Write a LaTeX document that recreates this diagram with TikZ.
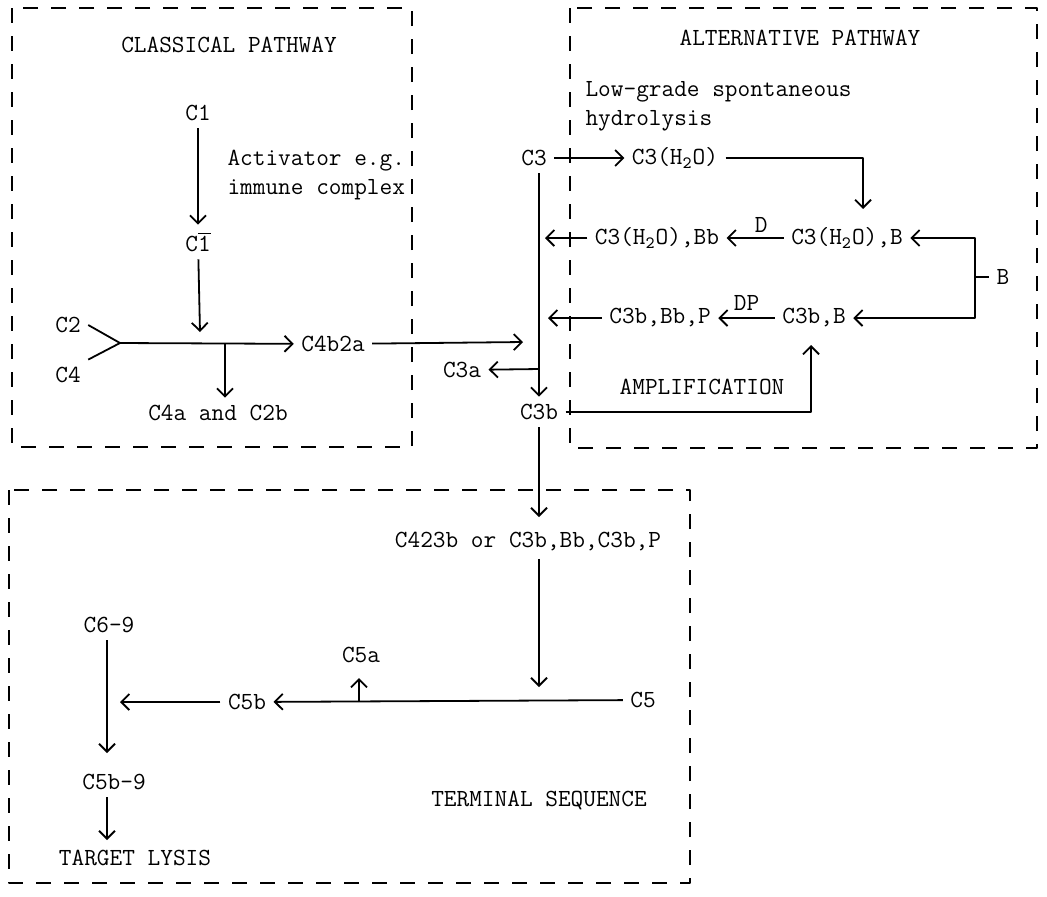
\documentclass[tikz,border=0pt]{standalone}
\usepackage{fontspec}
\usepackage{tikz}
\usetikzlibrary{arrows.meta,calc}

\tikzset{
  arr/.style={-{Straight Barb[length=4pt,width=8pt]}},
  dbox/.style={line width=1pt,line cap=butt,dash pattern=on 7.5pt off 6.5pt},
  txt/.style={font=\ttfamily\fontsize{12.3}{14.5}\selectfont}
}

\begin{document}
\begin{tikzpicture}[x=0.5pt, y=-0.5pt, line join=round, line width=0.9pt, every node/.style={txt}]

\useasboundingbox (0,0) rectangle (1047,896);

% --- the three dashed frames ---
\draw[dbox] (12,8) rectangle (412,447);
\draw[dbox] (570,8) rectangle (1037,448);
\draw[dbox] (9,490) rectangle (690,883);

% --- classical pathway ---
\node (cptitle) at (229,45) {CLASSICAL PATHWAY};
\node (c1) at (198,113) {C1};
\node (c1bar) at (198,242) {C$\overline{\mbox{1}}$};
\node[align=left, anchor=west] (activ) at (220,175) {Activator e.g.\\immune complex};
\node (c2) at (68,325) {C2};
\node (c4) at (68,375) {C4};
\node (c4b2a) at (333,344) {C4b2a};
\node (c4a) at (218,413) {C4a and C2b};

\coordinate (c1in) at (200,332);
\coordinate (fork) at (120,343);
\coordinate (cbr) at (225,343);
\coordinate (c3in) at (523,342);

\draw[arr] (c1) -- (c1 |- c1bar.north);
\draw[arr] (c1bar) -- (c1in);
\draw (c2.east) -- (fork);
\draw (c4.north east) -- (fork);
\draw[arr] (fork) -- (c4b2a);
\draw[arr] (cbr) -- (cbr |- c4a.north);
\draw[arr] (c4b2a) -- (c3in);

% --- alternative pathway ---
\node (aptitle) at (800,38) {ALTERNATIVE PATHWAY};
\node[align=left, anchor=west] (lowgr) at (578,106) {Low-grade spontaneous\\hydrolysis};
\node (c3) at (534,158) {C3};
\node (c3h2o) at (675,158) {C3(H\textsubscript{2}O)};
\node (c3h2ob) at (847,238) {C3(H\textsubscript{2}O),B};
\node (c3h2obb) at (657,238) {C3(H\textsubscript{2}O),Bb};
\node (c3bb) at (814,318) {C3b,B};
\node (c3bbbp) at (660,318) {C3b,Bb,P};
\node (bfac) at (1003,277) {B};
\node (c3a) at (462,370) {C3a};
\node (c3b) at (539,412) {C3b};
\node (amp) at (702,387) {AMPLIFICATION};

\coordinate (hin) at (863,209);
\coordinate (out2) at (545,238);
\coordinate (out3) at (548,318);
\coordinate (bj) at (975,277);
\coordinate (c3aj) at (539,369);
\coordinate (ampin) at (811,345);

\draw[arr] (c3) -- (c3h2o);
\draw[arr] (c3h2o.east) -| (hin);
\draw[arr] (c3h2ob) -- node[above=-1pt, xshift=3pt] (dlab) {D} (c3h2obb);
\draw[arr] (c3h2obb) -- (out2);
\draw[arr] (c3bb) -- node[above=0pt] (dplab) {DP} (c3bbbp);
\draw[arr] (c3bbbp) -- (out3);
\draw[arr] (bj) |- (c3h2ob.east);
\draw[arr] (bj) |- (c3bb.east);
\draw (bj) -- (bfac.west);
\draw[arr] (c3b |- c3.south) -- (c3b.north);
\draw[arr] (c3aj) -- (c3a);
\draw[arr] (c3b.east) -| (ampin);

% --- terminal sequence ---
\node (c423b) at (528,542) {C423b or C3b,Bb,C3b,P};
\node (c5) at (643,700) {C5};
\node (c5b) at (247,702) {C5b};
\node (c5a) at (361,655) {C5a};
\node (c69) at (109,625) {C6-9};
\node (c5b9) at (114,782) {C5b-9};
\node (lysis) at (135,858) {TARGET LYSIS};
\node (tseq) at (539,800) {TERMINAL SEQUENCE};

\coordinate (tin) at (539,517);
\coordinate (c5in) at (539,687);
\coordinate (c5aj) at (359,702);
\coordinate (c5aout) at (359,678);
\coordinate (c5bout) at (120,702);
\coordinate (c59in) at (107,753);
\coordinate (lysin) at (107,840);

\draw[arr] (c3b) -- (tin);
\draw[arr] (c423b.south -| c5in) -- (c5in);
\draw[arr] (c5) -- (c5b);
\draw[arr] (c5aj) -- (c5aout);
\draw[arr] (c5b) -- (c5bout);
\draw[arr] (c69.south -| c59in) -- (c59in);
\draw[arr] (c5b9.south -| lysin) -- (lysin);

\end{tikzpicture}
\end{document}
